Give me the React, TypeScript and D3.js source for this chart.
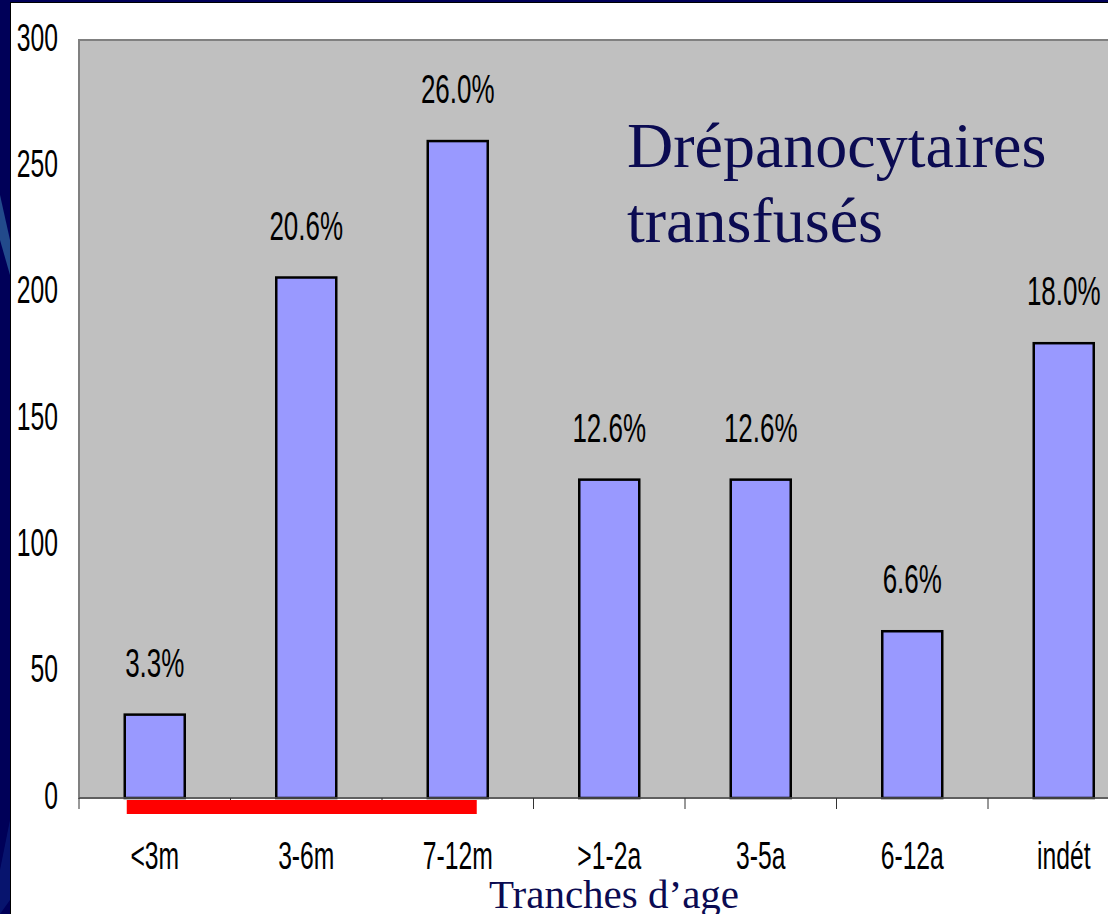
import * as d3 from 'd3';

const categories = ['<3m', '3-6m', '7-12m', '>1-2a', '3-5a', '6-12a', 'indét'];
const counts = [33, 206, 260, 126, 126, 66, 180];
const pctLabels = ['3.3%', '20.6%', '26.0%', '12.6%', '12.6%', '6.6%', '18.0%'];
const yTicks = [0, 50, 100, 150, 200, 250, 300];
const highlighted = ['<3m', '3-6m', '7-12m'];

const W = 1108;
const H = 914;
const NAVY = '#000058';
const TEXT_NAVY = '#0b0b52';
const SANS = '"Liberation Sans", Arial, sans-serif';
const SERIF = '"Liberation Serif", "Times New Roman", serif';

// condensed, tall sans labels like the original slide
function Narrow({ x, y, size, children, anchor = 'middle' }: any) {
  return (
    <text transform={`translate(${x},${y}) scale(0.65,1)`} textAnchor={anchor}
      fontFamily={SANS} fontSize={size} fill="#000">
      {children}
    </text>
  );
}

export default function App() {
  const left = 79;
  const step = 151.5;
  const x = d3.scaleBand<string>().domain(categories)
    .range([left, left + step * categories.length])
    .paddingInner(0.604).paddingOuter(0.302);
  const y = d3.scaleLinear().domain([0, 300]).range([798, 40]);
  const bw = x.bandwidth();
  const plotRight = left + step * categories.length;

  const hlStart = x(highlighted[0])! + 2;
  const hlEnd = x(highlighted[highlighted.length - 1])! + bw - 11;

  return (
    <div style={{ position: 'absolute', left: 0, top: 0 }}>
      <svg width={W} height={H} style={{ display: 'block' }}>
        <rect width={W} height={H} fill={NAVY} />
        <polygon points="0,195 10,240 10,275 0,240" fill="#2a5c98" opacity={0.8} />
        <polygon points="0,870 10,820 10,900 0,914" fill="#0a1c78" opacity={0.7} />
        <rect x={10} y={2} width={W} height={H} fill="#000" />
        <rect x={11} y={3} width={W} height={H} fill="#fff" />

        {/* plot area */}
        <rect x={left} y={y(300)} width={plotRight - left} height={y(0) - y(300)}
          fill="#c0c0c0" stroke="#808080" strokeWidth={2} />

        {/* bars */}
        {categories.map((c, i) => (
          <rect key={c} x={x(c)} y={y(counts[i])} width={bw} height={y(0) - y(counts[i])}
            fill="#9999ff" stroke="#000" strokeWidth={2.5} />
        ))}

        {/* x axis */}
        <line x1={left} x2={plotRight} y1={y(0)} y2={y(0)} stroke="#555" strokeWidth={1.5} />
        {d3.range(categories.length + 1).map(i => (
          <line key={i} x1={left + i * step} x2={left + i * step} y1={y(0)} y2={y(0) + 11}
            stroke="#333" strokeWidth={1} />
        ))}

        {/* highlight bar under first three groups */}
        <rect x={hlStart} y={y(0) + 2} width={hlEnd - hlStart} height={14} fill="#ff0000" />

        {/* y tick labels */}
        {yTicks.map(t => (
          <Narrow key={t} x={58} y={y(t) + 10.5} size={38} anchor="end">{t}</Narrow>
        ))}

        {/* value labels */}
        {categories.map((c, i) => (
          <Narrow key={c} x={x(c)! + bw / 2} y={y(counts[i]) - 38} size={40}>{pctLabels[i]}</Narrow>
        ))}

        {/* category labels */}
        {categories.map(c => (
          <Narrow key={c} x={x(c)! + bw / 2} y={869} size={38}>{c}</Narrow>
        ))}

        <text x={627} y={167} fontFamily={SERIF} fontSize={64} fill={TEXT_NAVY}>Drépanocytaires</text>
        <text x={627} y={242} fontFamily={SERIF} fontSize={64} fill={TEXT_NAVY}>transfusés</text>
        <text x={614} y={908} textAnchor="middle" fontFamily={SERIF} fontSize={41} fill={TEXT_NAVY}>
          Tranches d’age
        </text>
      </svg>
    </div>
  );
}
